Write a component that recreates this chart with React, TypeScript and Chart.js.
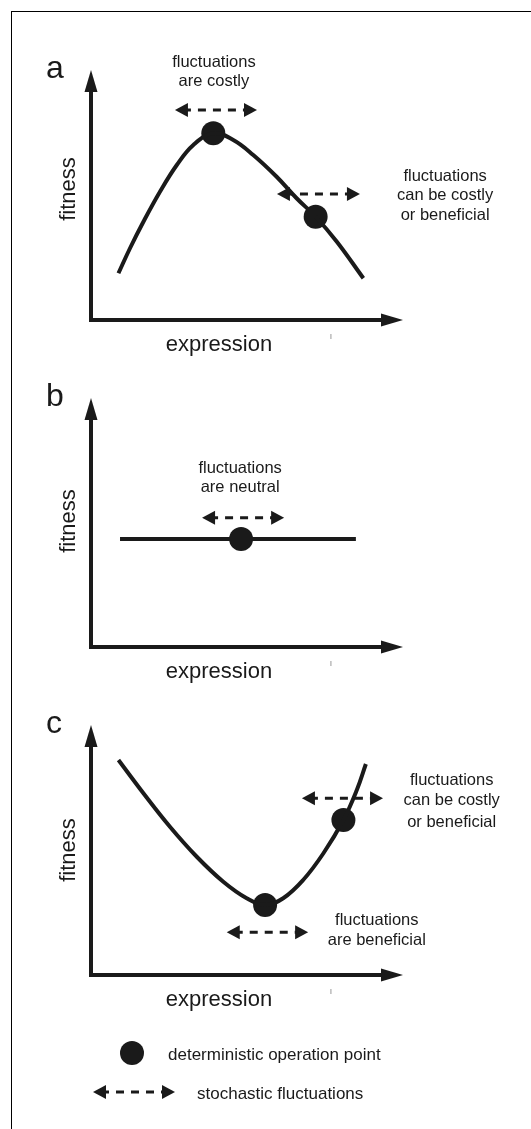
import React, { useEffect, useRef } from "react";
import { Chart, registerables } from "chart.js";

Chart.register(...registerables);

const INK = "#1a1a1a";
const FONT = '"Liberation Sans", Arial, Helvetica, sans-serif';

// ---------- data (0..100 units on both axes) ----------
const panelLetters = ["a", "b", "c"];
const xAxisTitle = "expression";
const yAxisTitle = "fitness";

// panel a: peaked fitness landscape
const curveAX = [8.8, 12.5, 16.8, 22.1, 27.5, 32.8, 39.2, 45.6, 52.0, 59.5, 65.9, 72.0, 78.8, 87.3];
const curveAY = [18.7, 28.7, 39.3, 51.3, 62.0, 70.0, 74.7, 72.0, 66.0, 57.3, 48.7, 41.3, 31.3, 16.7];
const pointsAX = [39.2, 72.0];
const pointsAY = [74.7, 41.3];
const arrowsA = [
  { from: 26.9, to: 53.2, at: 84.0 },
  { from: 59.6, to: 86.2, at: 50.4 },
];
const notesA = [
  { x: 39.4, lines: ["fluctuations", "are costly"], ys: [101.2, 93.6] },
  { x: 113.5, lines: ["fluctuations", "can be costly", "or beneficial"], ys: [55.6, 48.0, 40.0] },
];

// panel b: flat fitness landscape
const curveBX = [9.3, 84.9];
const curveBY = [43.4, 43.4];
const pointsBX = [48.1];
const pointsBY = [43.4];
const arrowsB = [{ from: 35.6, to: 61.9, at: 51.9 }];
const notesB = [{ x: 47.8, lines: ["fluctuations", "are neutral"], ys: [69.9, 62.4] }];

// panel c: valley fitness landscape
const curveCX = [8.8, 16.8, 25.3, 33.9, 42.4, 49.9, 55.8, 61.6, 68.0, 74.5, 80.9, 85.2, 88.1];
const curveCY = [86.0, 72.7, 59.3, 47.3, 37.3, 30.7, 28.0, 30.7, 38.0, 48.7, 62.0, 74.0, 84.4];
const pointsCX = [55.8, 80.9];
const pointsCY = [28.0, 62.0];
const arrowsC = [
  { from: 67.6, to: 93.6, at: 70.7 },
  { from: 43.5, to: 69.6, at: 17.1 },
];
const notesC = [
  { x: 115.6, lines: ["fluctuations", "can be costly", "or beneficial"], ys: [76.0, 68.0, 59.3] },
  { x: 91.6, lines: ["fluctuations", "are beneficial"], ys: [20.0, 12.0] },
];

const legendLabels = ["deterministic operation point", "stochastic fluctuations"];

const zip = (xs: number[], ys: number[]) => xs.map((x, i) => ({ x, y: ys[i] }));

// ---------- drawing helpers ----------
function dashedArrow(ctx: CanvasRenderingContext2D, x0: number, x1: number, y: number) {
  ctx.save();
  ctx.fillStyle = INK;
  ctx.strokeStyle = INK;
  ctx.lineWidth = 3;
  ctx.setLineDash([8, 7]);
  ctx.beginPath();
  ctx.moveTo(x0 + 8, y);
  ctx.lineTo(x1 - 11, y);
  ctx.stroke();
  ctx.setLineDash([]);
  const hl = 13, hw = 7;
  ctx.beginPath();
  ctx.moveTo(x0, y);
  ctx.lineTo(x0 + hl, y - hw);
  ctx.lineTo(x0 + hl, y + hw);
  ctx.closePath();
  ctx.fill();
  ctx.beginPath();
  ctx.moveTo(x1, y);
  ctx.lineTo(x1 - hl, y - hw);
  ctx.lineTo(x1 - hl, y + hw);
  ctx.closePath();
  ctx.fill();
  ctx.restore();
}

type Arrow = { from: number; to: number; at: number };
type Note = { x: number; lines: string[]; ys: number[] };
type PanelCfg = {
  letter: string;
  top: number;
  height: number;
  padTop: number;
  padBottom: number;
  curveX: number[];
  curveY: number[];
  ptsX: number[];
  ptsY: number[];
  arrows: Arrow[];
  notes: Note[];
  titleY: number;
  legend?: boolean;
};

function decorPlugin(cfg: PanelCfg) {
  return {
    id: "decor",
    beforeDatasetsDraw(chart: any) {
      const { ctx, chartArea: a } = chart;
      ctx.save();
      ctx.strokeStyle = INK;
      ctx.fillStyle = INK;
      ctx.lineWidth = 4;
      ctx.lineJoin = "miter";
      ctx.beginPath();
      ctx.moveTo(a.left, a.top + 20);
      ctx.lineTo(a.left, a.bottom);
      ctx.lineTo(a.right - 20, a.bottom);
      ctx.stroke();
      ctx.beginPath();
      ctx.moveTo(a.left, a.top);
      ctx.lineTo(a.left - 6.5, a.top + 22);
      ctx.lineTo(a.left + 6.5, a.top + 22);
      ctx.closePath();
      ctx.fill();
      ctx.beginPath();
      ctx.moveTo(a.right, a.bottom);
      ctx.lineTo(a.right - 22, a.bottom - 6.5);
      ctx.lineTo(a.right - 22, a.bottom + 6.5);
      ctx.closePath();
      ctx.fill();
      ctx.restore();
    },
    afterDatasetsDraw(chart: any) {
      const { ctx, chartArea: a, scales } = chart;
      const X = (v: number) => scales.x.getPixelForValue(v);
      const Y = (v: number) => scales.y.getPixelForValue(v);
      ctx.save();
      // fluctuation arrows
      cfg.arrows.forEach((ar) => dashedArrow(ctx, X(ar.from), X(ar.to), Y(ar.at)));
      // notes
      ctx.fillStyle = INK;
      ctx.font = `16.5px ${FONT}`;
      ctx.textAlign = "center";
      ctx.textBaseline = "alphabetic";
      cfg.notes.forEach((n) => n.lines.forEach((l, i) => ctx.fillText(l, X(n.x), Y(n.ys[i]))));
      // axis titles
      ctx.font = `22px ${FONT}`;
      ctx.fillText(xAxisTitle, X(41), a.bottom + 31);
      ctx.save();
      ctx.translate(a.left - 16, Y(cfg.titleY));
      ctx.rotate(-Math.PI / 2);
      ctx.fillText(yAxisTitle, 0, 0);
      ctx.restore();
      // panel letter
      ctx.textAlign = "left";
      ctx.font = `32px ${FONT}`;
      ctx.fillText(cfg.letter, a.left - 45, a.top + 8);
      // small stray tick below axis
      ctx.strokeStyle = "#999";
      ctx.lineWidth = 1;
      ctx.beginPath();
      ctx.moveTo(X(76.9), a.bottom + 14);
      ctx.lineTo(X(76.9), a.bottom + 19);
      ctx.stroke();
      // legend
      if (cfg.legend) {
        ctx.fillStyle = INK;
        ctx.beginPath();
        ctx.arc(132, a.bottom + 78, 12, 0, Math.PI * 2);
        ctx.fill();
        ctx.font = `17px ${FONT}`;
        ctx.textAlign = "left";
        ctx.fillText(legendLabels[0], 168, a.bottom + 85);
        dashedArrow(ctx, 93, 175, a.bottom + 117);
        ctx.fillText(legendLabels[1], 197, a.bottom + 124);
      }
      ctx.restore();
    },
  };
}

function Panel({ cfg }: { cfg: PanelCfg }) {
  const ref = useRef<HTMLCanvasElement>(null);
  useEffect(() => {
    const chart = new Chart(ref.current as HTMLCanvasElement, {
      type: "scatter",
      data: {
        datasets: [
          {
            data: zip(cfg.curveX, cfg.curveY),
            showLine: true,
            borderColor: INK,
            borderWidth: 4,
            pointRadius: 0,
            tension: 0.4,
            clip: false,
          } as any,
          {
            data: zip(cfg.ptsX, cfg.ptsY),
            showLine: false,
            pointRadius: 12,
            pointBackgroundColor: INK,
            pointBorderColor: INK,
            pointBorderWidth: 0,
            clip: false,
          } as any,
        ],
      },
      options: {
        animation: false,
        responsive: false,
        maintainAspectRatio: false,
        devicePixelRatio: 1,
        events: [],
        layout: { padding: { left: 91, right: 128, top: cfg.padTop, bottom: cfg.padBottom } },
        scales: {
          x: { type: "linear", min: 0, max: 100, display: false },
          y: { type: "linear", min: 0, max: 100, display: false },
        },
        plugins: { legend: { display: false }, tooltip: { enabled: false } },
      },
      plugins: [decorPlugin(cfg)],
    });
    return () => chart.destroy();
  }, []);
  return (
    <canvas
      ref={ref}
      width={531}
      height={cfg.height}
      style={{ position: "absolute", left: 0, top: cfg.top, width: 531, height: cfg.height }}
    />
  );
}

const panels: PanelCfg[] = [
  {
    letter: panelLetters[0], top: 0, height: 360, padTop: 70, padBottom: 40,
    curveX: curveAX, curveY: curveAY, ptsX: pointsAX, ptsY: pointsAY,
    arrows: arrowsA, notes: notesA, titleY: 52.4,
  },
  {
    letter: panelLetters[1], top: 360, height: 330, padTop: 38, padBottom: 43,
    curveX: curveBX, curveY: curveBY, ptsX: pointsBX, ptsY: pointsBY,
    arrows: arrowsB, notes: notesB, titleY: 50.6,
  },
  {
    letter: panelLetters[2], top: 690, height: 439, padTop: 35, padBottom: 154,
    curveX: curveCX, curveY: curveCY, ptsX: pointsCX, ptsY: pointsCY,
    arrows: arrowsC, notes: notesC, titleY: 50, legend: true,
  },
];

export default function App() {
  return (
    <div
      style={{
        position: "absolute",
        left: 0,
        top: 0,
        width: 531,
        height: 1129,
        background: "#fff",
        overflow: "hidden",
      }}
    >
      <div
        style={{
          position: "absolute",
          left: 11,
          top: 11,
          width: 540,
          height: 1140,
          borderTop: "1px solid #000",
          borderLeft: "1px solid #000",
        }}
      />
      {panels.map((p) => (
        <Panel key={p.letter} cfg={p} />
      ))}
    </div>
  );
}
